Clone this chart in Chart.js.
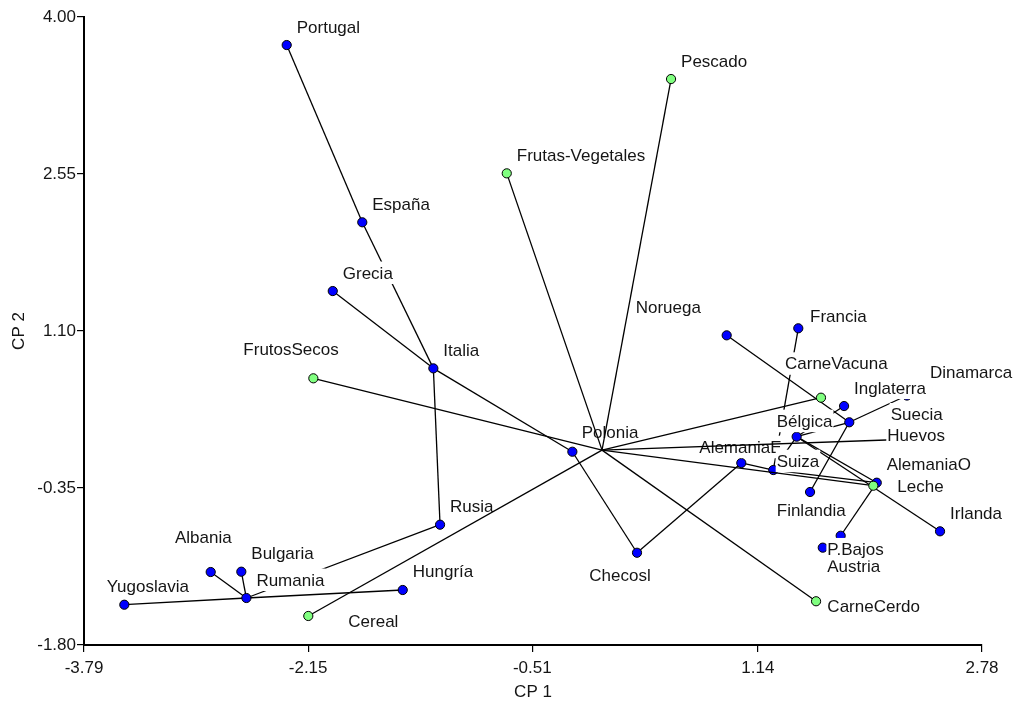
<!DOCTYPE html>
<html>
<head>
<meta charset="utf-8">
<script src="https://cdn.jsdelivr.net/npm/chart.js@4.4.1/dist/chart.umd.min.js"></script>
<style>
html,body{margin:0;padding:0;background:#ffffff;}
#wrap{width:1015px;height:704px;}
</style>
</head>
<body>
<div id="wrap"><canvas id="c" width="1015" height="704"></canvas></div>
<script>
// ---------------- DATA ----------------
const countries = ["Portugal","España","Grecia","Italia","Rusia","Albania","Bulgaria","Rumania","Yugoslavia","Hungría",
  "Polonia","Checosl","Noruega","Francia","AlemaniaE","Suiza","Bélgica","Inglaterra","Dinamarca","Suecia",
  "Finlandia","AlemaniaO","Irlanda","Austria","P.Bajos"];
const countryCP1 = [-2.307,-1.754,-1.970,-1.234,-1.185,-2.863,-2.639,-2.602,-3.495,-1.458,
  -0.217,0.256,0.912,1.436,1.019,1.253,1.424,1.771,1.809,2.231,
  1.522,2.010,2.473,1.746,1.615];
const countryCP2 = [3.741,2.104,1.469,0.755,-0.689,-1.126,-1.123,-1.366,-1.428,-1.292,
  -0.015,-0.948,1.060,1.125,-0.119,-0.184,0.124,0.407,0.257,0.504,
  -0.387,-0.301,-0.750,-0.791,-0.901];

const variables = ["Pescado","Frutas-Vegetales","FrutosSecos","CarneVacuna","Huevos","Leche","CarneCerdo","Cereal"];
const variableCP1 = [0.505,-0.697,-2.112,1.602,2.180,1.985,1.566,-2.149];
const variableCP2 = [3.427,2.556,0.663,0.484,0.098,-0.329,-1.396,-1.532];

// minimum spanning tree links between countries
const treeLinks = [
  ["Portugal","España"],["España","Italia"],["Grecia","Italia"],["Italia","Rusia"],["Italia","Polonia"],
  ["Rusia","Rumania"],["Yugoslavia","Rumania"],["Rumania","Hungría"],["Albania","Rumania"],["Bulgaria","Rumania"],
  ["Polonia","Checosl"],["Checosl","AlemaniaE"],["AlemaniaE","Suiza"],["Suiza","AlemaniaO"],["Francia","Suiza"],
  ["Bélgica","Suiza"],["Bélgica","AlemaniaO"],["Bélgica","Irlanda"],["Bélgica","Dinamarca"],["Inglaterra","Bélgica"],
  ["Noruega","Dinamarca"],["Dinamarca","Suecia"],["Dinamarca","Finlandia"],["AlemaniaO","Austria"],["Austria","P.Bajos"]
];

const xTickValues = [-3.79,-2.15,-0.51,1.14,2.78];
const yTickValues = [-1.80,-0.35,1.10,2.55,4.00];
const xTitle = "CP 1";
const yTitle = "CP 2";

// ---------------- STYLE ----------------
const FONT = '"Liberation Sans", Arial, Helvetica, sans-serif';
const FONT_SIZE = 17;
const TEXT_COLOR = '#151515';
const LINE_W = 1.3;
const DEFAULT_OFFSET = [10, -12.5];   // pixel offset of label (left, baseline) from its point
const labelOffsets = {
  "FrutosSecos":[-70,-23.3], "Noruega":[-91,-22], "Albania":[-35.7,-28.7], "Yugoslavia":[-17.6,-13],
  "Cereal":[40,11.3], "Checosl":[-47.7,28.3], "CarneCerdo":[11.3,10.4], "P.Bajos":[4.6,7.3],
  "Austria":[-13.4,36.6], "AlemaniaE":[-42,-10.3], "Suiza":[3.4,-3.3], "Finlandia":[-33.3,23.7],
  "Leche":[24,6], "Huevos":[-12.7,1.2], "Suecia":[-16.3,24.5], "Bélgica":[-20,-10],
  "Dinamarca":[80.7,-44], "CarneVacuna":[-36,-28.4], "Francia":[11.7,-6.6], "Polonia":[9.4,-13.4]
};
// drawing order of country labels (later ones on top)
const countryLabelOrder = countries.slice();

Chart.defaults.font.family = FONT;
Chart.defaults.font.size = FONT_SIZE;
Chart.defaults.color = TEXT_COLOR;

const lookup = {};
countries.forEach((n,i)=>{ lookup[n] = {x: countryCP1[i], y: countryCP2[i]}; });
variables.forEach((n,i)=>{ lookup[n] = {x: variableCP1[i], y: variableCP2[i]}; });

const lineStyle = {showLine:true, pointRadius:0, pointHoverRadius:0, borderColor:'#000', borderWidth:LINE_W, fill:false};

const datasets = [];
treeLinks.forEach(([a,b])=>{
  datasets.push(Object.assign({data:[lookup[a], lookup[b]], order:6}, lineStyle));
});
datasets.push({
  data: countries.map(n=>lookup[n]), labelNames: countries,
  pointRadius:4.6, pointHoverRadius:4.6, backgroundColor:'#0000ff', borderColor:'#000', borderWidth:1, order:5
});
variables.forEach(v=>{
  datasets.push(Object.assign({data:[{x:0,y:0}, lookup[v]], order:4}, lineStyle));
});
datasets.push({
  data: variables.map(n=>lookup[n]), labelNames: variables,
  pointRadius:4.6, pointHoverRadius:4.6, backgroundColor:'#80ff80', borderColor:'#000', borderWidth:1, order:3
});

const labelPlugin = {
  id:'pointLabels',
  afterDatasetDraw(chart, args){
    const ds = chart.data.datasets[args.index];
    if (!ds.labelNames) return;
    const ctx = chart.ctx;
    ctx.save();
    ctx.font = FONT_SIZE + 'px ' + FONT;
    ctx.textAlign = 'left';
    ctx.textBaseline = 'alphabetic';
    ds.labelNames.forEach((name,i)=>{
      const el = args.meta.data[i];
      const off = labelOffsets[name] || DEFAULT_OFFSET;
      const tx = el.x + off[0], ty = el.y + off[1];
      const w = ctx.measureText(name).width;
      ctx.fillStyle = '#ffffff';
      ctx.fillRect(tx-1, ty-17, w+2, 22.5);
      ctx.fillStyle = TEXT_COLOR;
      ctx.fillText(name, tx, ty);
    });
    ctx.restore();
  }
};

const axisCommon = (ticksArr) => ({
  type:'linear',
  afterBuildTicks: (s)=>{ s.ticks = ticksArr.map(v=>({value:v})); },
  grid:{display:true, drawOnChartArea:false, drawTicks:true, tickLength:7, color:'#000', lineWidth:1.2},
  border:{display:true, color:'#000', width:2}
});

new Chart(document.getElementById('c'), {
  type:'scatter',
  data:{datasets},
  plugins:[labelPlugin],
  options:{
    responsive:false, animation:false, devicePixelRatio:1, events:[],
    layout:{padding:{top:17, right:33, left:0, bottom:0}},
    plugins:{legend:{display:false}, tooltip:{enabled:false}},
    scales:{
      x: Object.assign(axisCommon(xTickValues), {
        position:'bottom', min:-3.79, max:2.78,
        ticks:{autoSkip:false, maxRotation:0, padding:6, color:TEXT_COLOR, callback:(v)=>Number(v).toFixed(2)},
        title:{display:true, text:xTitle, color:TEXT_COLOR, padding:{top:0,bottom:1}},
        afterFit:(s)=>{ s.height = 59; }
      }),
      y: Object.assign(axisCommon(yTickValues), {
        position:'left', min:-1.80, max:4.00,
        ticks:{autoSkip:false, padding:1, color:TEXT_COLOR, callback:(v)=>Number(v).toFixed(2)},
        title:{display:true, text:yTitle, color:TEXT_COLOR, padding:{top:9,bottom:0}},
        afterFit:(s)=>{ s.width = 84; }
      })
    }
  }
});
</script>
</body>
</html>
